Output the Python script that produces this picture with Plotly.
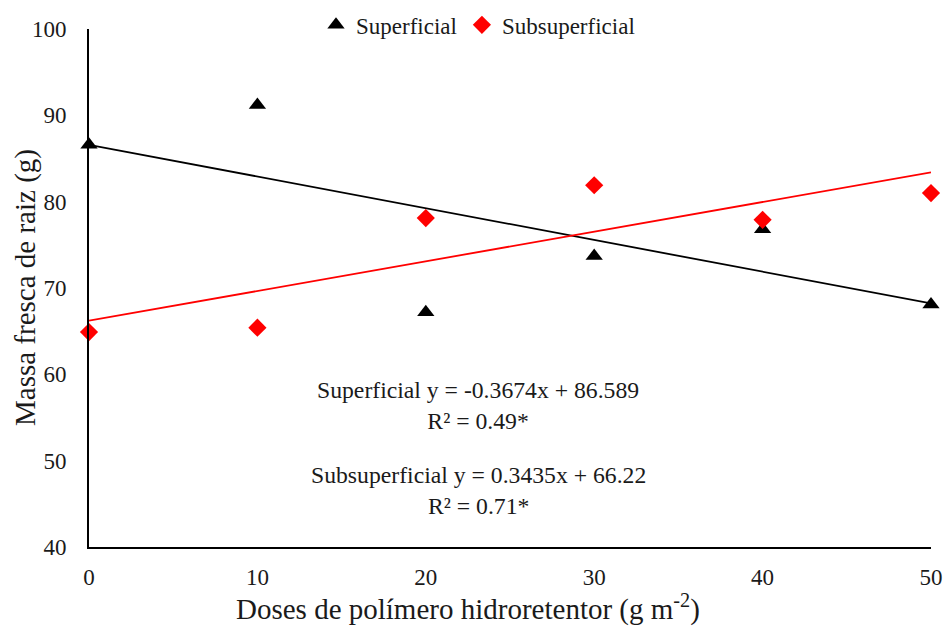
import plotly.graph_objects as go

# Doses of water-retaining polymer (g m-2)
doses = [0, 10, 20, 30, 40, 50]

# Fresh root mass (g) for each application method
superficial = [86.6, 91.2, 67.2, 73.7, 76.8, 68.1]
subsuperficial = [64.9, 65.4, 78.1, 81.9, 77.9, 81.0]

# Fitted linear regressions: y = slope * x + intercept
sup_slope, sup_intercept, sup_r2 = -0.3674, 86.589, "0.49*"
sub_slope, sub_intercept, sub_r2 = 0.3435, 66.22, "0.71*"

x_ticks = [0, 10, 20, 30, 40, 50]
y_ticks = [40, 50, 60, 70, 80, 90, 100]

x_title = "Doses de polímero hidroretentor (g m<sup>-2</sup>)"
y_title = "Massa fresca de raiz (g)"

FONT = "Liberation Serif, Times New Roman, serif"
TEXT = "#1a1a1a"

fit_x = [min(doses), max(doses)]
sup_fit = [sup_slope * x + sup_intercept for x in fit_x]
sub_fit = [sub_slope * x + sub_intercept for x in fit_x]

fig = go.Figure()

fig.add_trace(go.Scatter(
    x=fit_x, y=sup_fit, mode="lines",
    line=dict(color="black", width=1.8),
    showlegend=False, hoverinfo="skip", cliponaxis=False,
))
fig.add_trace(go.Scatter(
    x=fit_x, y=sub_fit, mode="lines",
    line=dict(color="#ff0000", width=1.8),
    showlegend=False, hoverinfo="skip", cliponaxis=False,
))
fig.add_trace(go.Scatter(
    x=doses, y=superficial, mode="markers", name="Superficial",
    marker=dict(symbol="triangle-up", size=15, color="black"),
    cliponaxis=False,
))
fig.add_trace(go.Scatter(
    x=doses, y=subsuperficial, mode="markers", name="Subsuperficial",
    marker=dict(symbol="diamond", size=14, color="#ff0000"),
    cliponaxis=False,
))

# Plot-area geometry in pixels, used to place paper-referenced text
PLOT_LEFT, PLOT_W = 89, 842
PLOT_TOP, PLOT_H = 29, 518


def px_to_paper_x(px):
    return (px - PLOT_LEFT) / PLOT_W


def px_to_paper_y(py):
    return 1 - (py - PLOT_TOP) / PLOT_H


# Regression equations inside the plot area
eq_font = dict(family=FONT, size=23.7, color=TEXT)
fig.add_annotation(
    x=0.462, y=px_to_paper_y(375), xref="paper", yref="paper",
    text=f"Superficial y = {sup_slope}x + {sup_intercept}<br>R² = {sup_r2}",
    showarrow=False, font=eq_font, align="center", yanchor="top",
)
fig.add_annotation(
    x=0.462, y=px_to_paper_y(460), xref="paper", yref="paper",
    text=f"Subsuperficial y = {sub_slope}x + {sub_intercept}<br>R² = {sub_r2}",
    showarrow=False, font=eq_font, align="center", yanchor="top",
)

# Axis titles
title_font = dict(family=FONT, size=29, color=TEXT)
fig.add_annotation(
    x=px_to_paper_x(468), y=px_to_paper_y(607), xref="paper", yref="paper",
    text=x_title, showarrow=False, font=title_font,
    xanchor="center", yanchor="middle",
)
fig.add_annotation(
    x=px_to_paper_x(25), y=px_to_paper_y(288), xref="paper", yref="paper",
    text=y_title, showarrow=False, font=title_font, textangle=-90,
    xanchor="center", yanchor="middle",
)

fig.update_layout(
    width=945, height=632,
    margin=dict(l=PLOT_LEFT, r=945 - PLOT_LEFT - PLOT_W, t=PLOT_TOP,
                b=632 - PLOT_TOP - PLOT_H, autoexpand=False),
    paper_bgcolor="white", plot_bgcolor="white",
    font=dict(family=FONT, color=TEXT),
    legend=dict(
        orientation="h", x=0.462, xanchor="center", y=1.008, yanchor="middle",
        font=dict(family=FONT, size=23, color=TEXT),
        bgcolor="rgba(0,0,0,0)", itemwidth=30,
    ),
    xaxis=dict(
        range=[0, 50], tickvals=x_ticks, ticktext=[str(v) for v in x_ticks],
        showgrid=False, zeroline=False, automargin=False,
        showline=True, linecolor="black", linewidth=1.8,
        ticks="", ticklabelstandoff=8,
        tickfont=dict(family=FONT, size=23, color=TEXT),
    ),
    yaxis=dict(
        range=[40, 100], tickvals=y_ticks, ticktext=[str(v) for v in y_ticks],
        showgrid=False, zeroline=False, automargin=False,
        showline=True, linecolor="black", linewidth=1.8,
        ticks="", ticklabelstandoff=16,
        tickfont=dict(family=FONT, size=23, color=TEXT),
    ),
)

fig.write_html("out.html")
